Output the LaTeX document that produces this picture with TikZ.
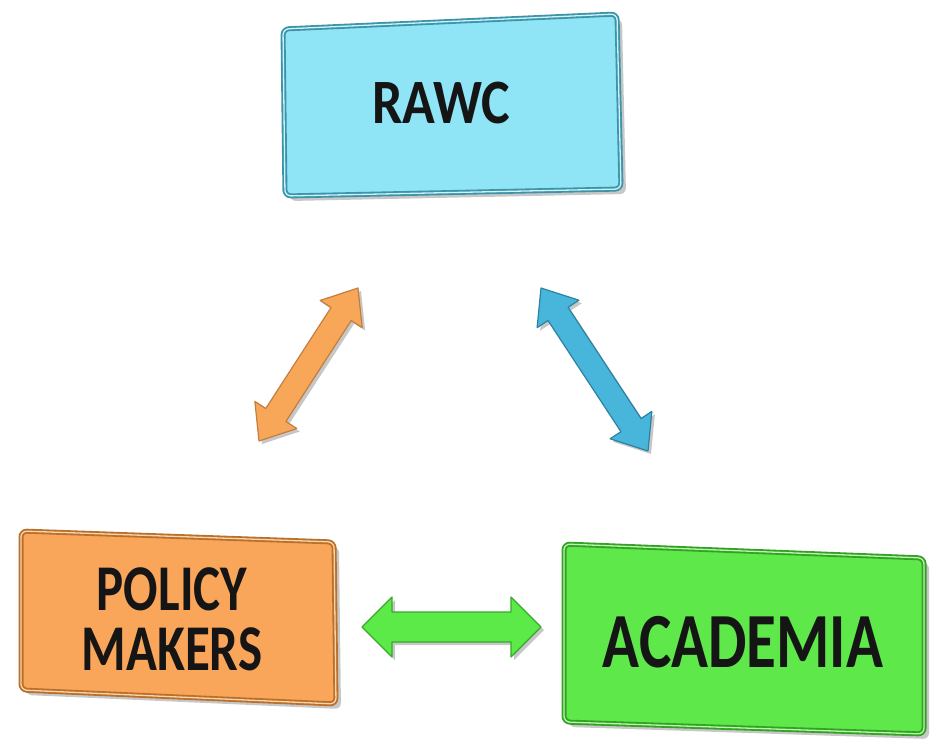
\documentclass[tikz,border=0pt]{standalone}
\usepackage{fontspec}
\setmainfont{Carlito}
\usetikzlibrary{calc}
\definecolor{rawcfill}{HTML}{8FE4F6}
\definecolor{rawcedge}{HTML}{3F93A8}
\definecolor{rawclight}{HTML}{C8F4FC}
\definecolor{polfill}{HTML}{F9A55A}
\definecolor{poledge}{HTML}{B8702C}
\definecolor{pollight}{HTML}{FDD3A8}
\definecolor{acafill}{HTML}{5EE84A}
\definecolor{acaedge}{HTML}{35A026}
\definecolor{acalight}{HTML}{B4F8A8}
\definecolor{arrorange}{HTML}{F8A758}
\definecolor{arrorangeedge}{HTML}{C27E3E}
\definecolor{arrblue}{HTML}{48B6DA}
\definecolor{arrblueedge}{HTML}{2C82A2}
\definecolor{arrgreen}{HTML}{5CEA48}
\definecolor{arrgreenedge}{HTML}{38A82A}
\definecolor{txt}{HTML}{151515}
% fat double arrow: #1,#2 ends, #3 shaft half width, #4 head half width, #5 head length, #6 fill, #7 edge
\newcommand\fatarrow[7]{%
  \path ($(#1)!#5!(#2)$) coordinate (fa1) ($(#2)!#5!(#1)$) coordinate (fa2);
  \fill[black, opacity=.22, transform canvas={shift={(3pt,-3pt)}}]
    (#1) -- ($(fa1)!#4!90:(#2)$) -- ($(fa1)!#3!90:(#2)$) -- ($(fa2)!#3!-90:(#1)$) -- ($(fa2)!#4!-90:(#1)$) -- (#2)
    -- ($(fa2)!#4!90:(#1)$) -- ($(fa2)!#3!90:(#1)$) -- ($(fa1)!#3!-90:(#2)$) -- ($(fa1)!#4!-90:(#2)$) -- cycle;
  \filldraw[fill=#6, draw=#7, line width=1.2pt, line join=round]
    (#1) -- ($(fa1)!#4!90:(#2)$) -- ($(fa1)!#3!90:(#2)$) -- ($(fa2)!#3!-90:(#1)$) -- ($(fa2)!#4!-90:(#1)$) -- (#2)
    -- ($(fa2)!#4!90:(#1)$) -- ($(fa2)!#3!90:(#1)$) -- ($(fa1)!#3!-90:(#2)$) -- ($(fa1)!#4!-90:(#2)$) -- cycle;}
% bevelled box: corners TL TR BR BL, fill, edge, light
\newcommand\bevelbox[7]{%
  \fill[black, opacity=.22, rounded corners=6pt, transform canvas={shift={(5pt,-5pt)}}] #1 -- #2 -- #3 -- #4 -- cycle;
  \filldraw[fill=#5, draw=#6, line width=5pt, rounded corners=6pt] #1 -- #2 -- #3 -- #4 -- cycle;
  \draw[#7, line width=1.3pt, rounded corners=6pt] #1 -- #2 -- #3 -- #4 -- cycle;}
\tikzset{
  label/.style={text=txt, inner sep=0pt, font=\bfseries},
}
\begin{document}
\begin{tikzpicture}[x=1pt, y=-1pt]
  \useasboundingbox (0,0) rectangle (930,740);
  % boxes
  \bevelbox{(283,29)}{(617,14)}{(621,189)}{(285,196)}{rawcfill}{rawcedge}{rawclight}
  \bevelbox{(21,531)}{(334,542)}{(336,704)}{(21,690)}{polfill}{poledge}{pollight}
  \bevelbox{(564,544)}{(924,558)}{(924,734)}{(564,722)}{acafill}{acaedge}{acalight}
  % labels
  \node[label, anchor=base] (rawc) at (441,123)
    {\scalebox{1}[1.17]{\fontsize{54}{54}\selectfont RAWC}};
  \node[label, anchor=base] (policy1) at (172,610)
    {\scalebox{1}[1.28]{\fontsize{51}{51}\selectfont POLICY}};
  \node[label, anchor=base] (policy2) at (172,670)
    {\scalebox{1}[1.28]{\fontsize{51}{51}\selectfont MAKERS}};
  \node[label, anchor=base] (academia) at (743,667)
    {\scalebox{1}[1.28]{\fontsize{61}{61}\selectfont ACADEMIA}};
  % arrow end points
  \coordinate (orA) at (259,441);
  \coordinate (orB) at (358,288);
  \coordinate (blA) at (541,288);
  \coordinate (blB) at (648,451);
  \coordinate (grA) at (362,627);
  \coordinate (grB) at (541,627);
  \fatarrow{orA}{orB}{12pt}{25pt}{31pt}{arrorange}{arrorangeedge}
  \fatarrow{blA}{blB}{12pt}{25pt}{31pt}{arrblue}{arrblueedge}
  \fatarrow{grA}{grB}{15pt}{30pt}{30pt}{arrgreen}{arrgreenedge}
\end{tikzpicture}
\end{document}
